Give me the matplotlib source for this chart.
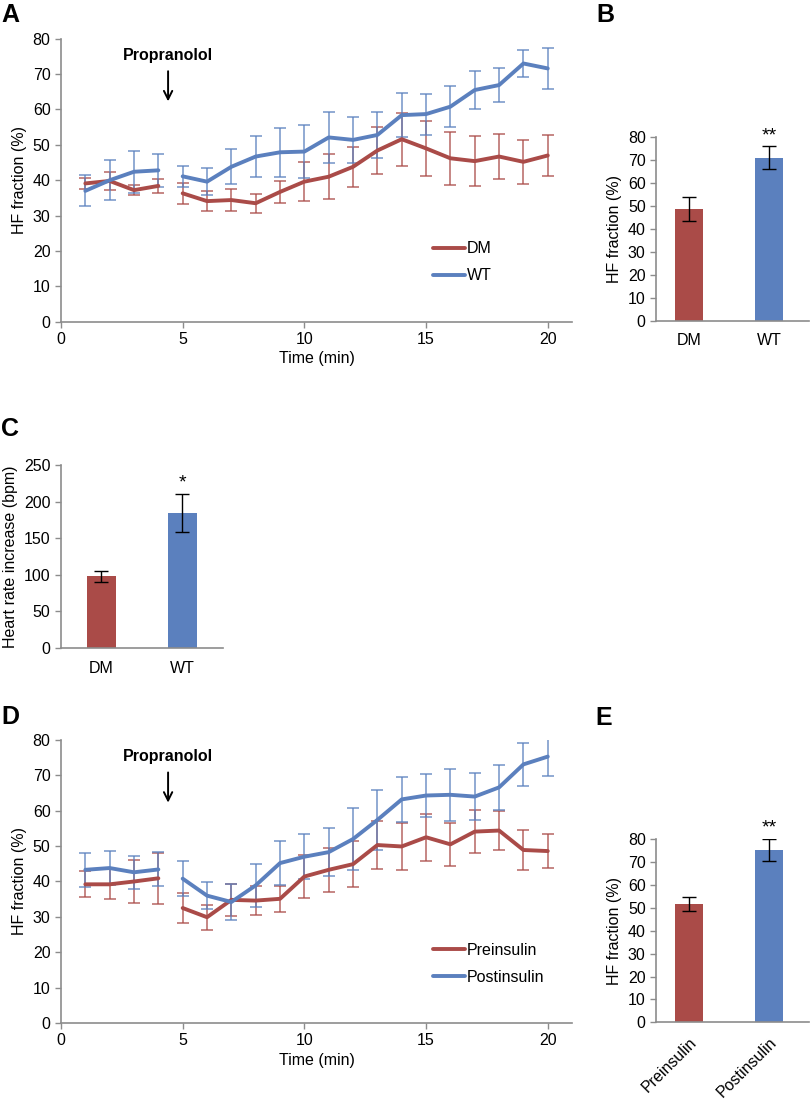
import numpy as np
import matplotlib
matplotlib.use('Agg')
import matplotlib.pyplot as plt

plt.rcParams['font.family'] = ['Liberation Sans', 'DejaVu Sans']
plt.rcParams['font.size'] = 11.5

RED = '#AA4B48'
BLUE = '#5B80BE'
GRAY = '#8C8C8C'

# panel A: HF fraction over time, DM vs WT
time = np.arange(1, 21)
dm_mean = [39.1, 39.8, 37.2, 38.4, 36.3, 34.1, 34.4, 33.5, 36.7, 39.6,
           41.0, 43.8, 48.4, 51.6, 49.0, 46.2, 45.4, 46.7, 45.2, 47.0]
dm_err = [1.5, 2.5, 1.4, 2.0, 3.0, 2.8, 3.1, 2.7, 3.0, 5.5,
          6.3, 5.7, 6.6, 7.5, 7.8, 7.5, 7.0, 6.3, 6.3, 5.9]
wt_mean = [37.0, 40.0, 42.4, 42.8, 41.1, 39.6, 43.8, 46.7, 47.9, 48.1,
           52.1, 51.4, 52.8, 58.4, 58.7, 60.8, 65.5, 66.9, 73.0, 71.6]
wt_err = [4.4, 5.7, 6.0, 4.7, 3.0, 3.8, 5.0, 5.8, 7.0, 7.5,
          7.3, 6.6, 6.5, 6.3, 5.8, 5.7, 5.4, 4.7, 3.8, 5.7]

# panel B
b_groups = ['DM', 'WT']
b_mean = [48.5, 70.9]
b_err = [5.2, 4.9]

# panel C
c_groups = ['DM', 'WT']
c_mean = [97.7, 184.4]
c_err = [7.0, 25.4]

# panel D: preinsulin vs postinsulin
pre_mean = [39.2, 39.2, 40.0, 40.9, 32.5, 29.9, 34.8, 34.6, 35.1, 41.4,
            43.3, 44.9, 50.3, 49.9, 52.5, 50.5, 54.1, 54.4, 48.9, 48.6]
pre_err = [3.7, 4.2, 6.0, 7.2, 4.2, 3.5, 4.6, 4.1, 3.6, 6.2,
           6.3, 6.5, 6.7, 6.6, 6.7, 6.1, 6.0, 5.6, 5.7, 4.8]
post_mean = [43.3, 43.8, 42.6, 43.4, 40.8, 36.0, 34.2, 38.9, 45.2, 47.0,
             48.3, 52.0, 57.4, 63.2, 64.3, 64.5, 64.0, 66.6, 73.1, 75.3]
post_err = [4.8, 4.8, 4.6, 4.8, 4.9, 3.8, 5.0, 6.1, 6.3, 6.3,
            6.7, 8.7, 8.4, 6.3, 6.1, 7.4, 6.7, 6.3, 6.0, 5.5]

# panel E
e_groups = ['Preinsulin', 'Postinsulin']
e_mean = [51.7, 75.3]
e_err = [3.0, 4.7]


def style_axes(ax):
    for s in ['top', 'right']:
        ax.spines[s].set_visible(False)
    for s in ['left', 'bottom']:
        ax.spines[s].set_color(GRAY)
        ax.spines[s].set_linewidth(1.2)
    ax.tick_params(colors=GRAY, labelcolor='black', length=4, width=1, labelsize=11.5)


def line_panel(ax, m1, e1, m2, e2, labels):
    x = np.array(time)
    for m, e, c, lab in [(m1, e1, RED, labels[0]), (m2, e2, BLUE, labels[1])]:
        m = np.array(m)
        e = np.array(e)
        ax.errorbar(x, m, yerr=e, fmt='none', ecolor=c, elinewidth=1.1,
                    capsize=4, capthick=1.1, alpha=0.85, zorder=2)
        # gap between minute 4 and 5 (drug injection)
        ax.plot(x[:4], m[:4], color=c, lw=2.8, solid_capstyle='round', zorder=3)
        ax.plot(x[4:], m[4:], color=c, lw=2.8, solid_capstyle='round', zorder=3, label=lab)
    ax.set_xlim(0, 21)
    ax.set_ylim(0, 80)
    ax.set_xticks([0, 5, 10, 15, 20])
    ax.set_yticks(range(0, 81, 10))
    ax.set_xlabel('Time (min)', labelpad=3)
    ax.set_ylabel('HF fraction (%)')
    ax.text(4.4, 75.3, 'Propranolol', ha='center', va='center', fontweight='bold', fontsize=11.5)
    ax.annotate('', xy=(4.4, 61.5), xytext=(4.4, 71.6),
                arrowprops=dict(arrowstyle='->', lw=1.4, color='black',
                                mutation_scale=15))
    style_axes(ax)
    ax.legend(loc='lower left', bbox_to_anchor=(0.7, 0.085), frameon=False,
              handlelength=2.0, handletextpad=0.1, labelspacing=0.75, fontsize=11.5)


def bar_panel(ax, groups, mean, err, ylim, yticks, ylabel, star, star_y, xlim, rot=False):
    pos = np.arange(len(groups))
    ax.bar(pos, mean, width=0.346, color=[RED, BLUE], zorder=2)
    ax.errorbar(pos, mean, yerr=err, fmt='none', ecolor='black', elinewidth=1,
                capsize=5, capthick=1, zorder=3)
    ax.text(1, star_y, star, ha='center', va='center', fontsize=14, clip_on=False)
    ax.set_xlim(*xlim)
    ax.set_ylim(*ylim)
    ax.set_yticks(yticks)
    ax.set_xticks(pos)
    if rot:
        ax.set_xticklabels(groups, rotation=45, ha='right', rotation_mode='anchor')
    else:
        ax.set_xticklabels(groups)
    ax.set_ylabel(ylabel)
    style_axes(ax)
    ax.tick_params(axis='x', length=0, pad=9)


fig = plt.figure(figsize=(8.1, 11), dpi=100)

axA = fig.add_axes([0.0753, 0.7075, 0.631, 0.2573])
line_panel(axA, dm_mean, dm_err, wt_mean, wt_err, ['DM', 'WT'])

axB = fig.add_axes([0.81, 0.7085, 0.189, 0.1673])
bar_panel(axB, b_groups, b_mean, b_err, (0, 80), range(0, 81, 10),
          'HF fraction (%)', '**', 80.5, (-0.41, 1.5))

axC = fig.add_axes([0.0753, 0.4109, 0.2, 0.1664])
bar_panel(axC, c_groups, c_mean, c_err, (0, 250), range(0, 251, 50),
          'Heart rate increase (bpm)', '*', 226, (-0.5, 1.5))

axD = fig.add_axes([0.0753, 0.07, 0.631, 0.2573])
line_panel(axD, pre_mean, pre_err, post_mean, post_err, ['Preinsulin', 'Postinsulin'])

axE = fig.add_axes([0.81, 0.0706, 0.189, 0.1664])
bar_panel(axE, e_groups, e_mean, e_err, (0, 80), range(0, 81, 10),
          'HF fraction (%)', '**', 85, (-0.41, 1.5), rot=True)

for letter, x, y in [('A', 10, 15), ('B', 605, 15), ('C', 10, 429), ('D', 10, 717), ('E', 604, 718)]:
    fig.text(x / 810, 1 - y / 1100, letter, fontsize=18, fontweight='bold',
             ha='center', va='center')

fig.savefig('out.png', dpi=100)
